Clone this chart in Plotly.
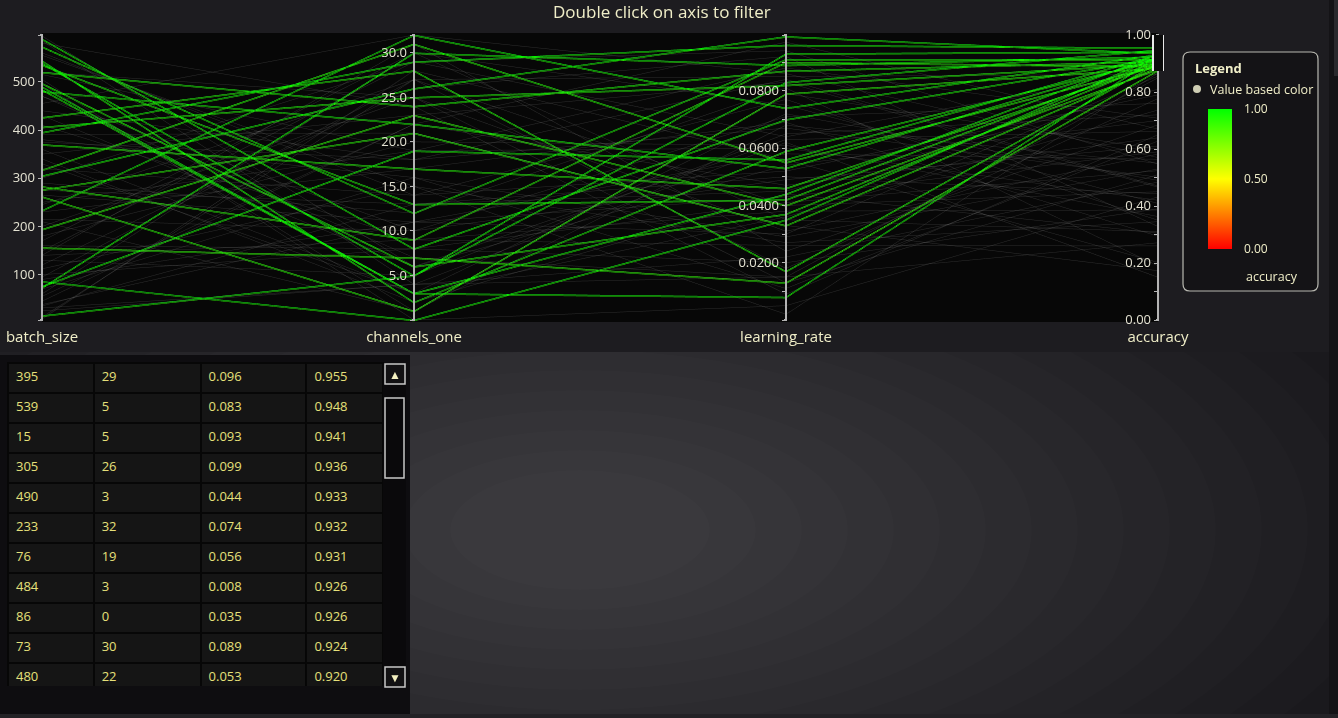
import plotly.graph_objects as go
import pandas as pd

W, H = 1338, 718

# ---------------- data ----------------
batch_size = [395, 539, 15, 305, 490, 233, 76, 484, 86, 73, 480,
              589, 573, 544, 535, 520, 497, 426, 406, 370, 317,
              283, 276, 262, 194, 156, 149, 112, 95, 38, 31,
              560, 12, 470, 330, 250, 140, 595, 45, 380, 210,
              520, 90, 300, 160, 440, 25, 350, 275, 505, 60,
              410, 180, 555, 120, 340, 230, 470, 8, 290, 390,
              130, 580, 215, 455, 70, 360, 245, 515, 100, 320,
              170, 430, 55, 265, 495, 200, 375, 140, 585, 35]
channels_one = [29, 5, 5, 26, 3, 32, 19, 3, 0, 30, 22,
                8, 12, 2, 13, 24, 6, 28, 25, 17, 31,
                9, 21, 1, 23, 7, 29, 15, 27, 11, 4,
                14, 27, 10, 3, 19, 31, 6, 22, 16, 1,
                25, 11, 29, 8, 18, 4, 23, 13, 0, 30,
                9, 20, 15, 26, 2, 17, 7, 28, 12, 21,
                5, 24, 10, 32, 16, 3, 27, 19, 8, 14,
                30, 6, 22, 11, 1, 25, 18, 9, 4, 13]
learning_rate = [0.096, 0.083, 0.093, 0.099, 0.044, 0.074, 0.056, 0.008, 0.035, 0.089, 0.053,
                 0.070, 0.091, 0.059, 0.042, 0.087, 0.037, 0.017, 0.082, 0.046, 0.055,
                 0.090, 0.033, 0.079, 0.040, 0.013, 0.064, 0.002, 0.085, 0.030, 0.015,
                 0.052, 0.018, 0.071, 0.036, 0.088, 0.024, 0.063, 0.047, 0.011, 0.079,
                 0.031, 0.058, 0.094, 0.041, 0.067, 0.022, 0.083, 0.050, 0.005, 0.075,
                 0.038, 0.061, 0.027, 0.092, 0.044, 0.069, 0.015, 0.056, 0.081, 0.033,
                 0.065, 0.009, 0.049, 0.086, 0.029, 0.072, 0.040, 0.060, 0.020, 0.077,
                 0.035, 0.054, 0.097, 0.043, 0.068, 0.013, 0.084, 0.026, 0.062, 0.045]
accuracy = [0.955, 0.948, 0.941, 0.936, 0.933, 0.932, 0.931, 0.926, 0.926, 0.924, 0.920,
            0.918, 0.915, 0.912, 0.910, 0.907, 0.905, 0.902, 0.899, 0.896, 0.893,
            0.890, 0.887, 0.884, 0.880, 0.876, 0.872, 0.867, 0.862, 0.856, 0.850,
            0.790, 0.777, 0.760, 0.737, 0.708, 0.685, 0.662, 0.639, 0.628, 0.599,
            0.582, 0.564, 0.547, 0.524, 0.501, 0.484, 0.466, 0.443, 0.432, 0.409,
            0.386, 0.363, 0.345, 0.328, 0.305, 0.294, 0.271, 0.202, 0.190, 0.173,
            0.720, 0.650, 0.610, 0.570, 0.530, 0.490, 0.450, 0.420, 0.390, 0.350,
            0.310, 0.700, 0.670, 0.590, 0.550, 0.510, 0.470, 0.260, 0.150, 0.810]

batch_range = [6, 597]
batch_ticks = [6, 100, 200, 300, 400, 500, 597]
batch_ticktext = [' ', '100', '200', '300', '400', '500', '  ']
channel_range = [0, 32]
channel_ticks = [0, 5, 10, 15, 20, 25, 30, 32]
channel_ticktext = [' ', '5.0', '10.0', '15.0', '20.0', '25.0', '30.0', '  ']
lr_range = [0, 0.0995]
lr_ticks = [0, 0.01, 0.02, 0.03, 0.04, 0.05, 0.06, 0.07, 0.08, 0.09, 0.0995]
lr_ticktext = [' ', '  ', '0.0200', '   ', '0.0400', '    ', '0.0600', '     ',
               '0.0800', '      ', '       ']
acc_range = [0, 1]
acc_ticks = [0.0, 0.1, 0.2, 0.3, 0.4, 0.5, 0.6, 0.7, 0.8, 0.9, 1.0]
acc_ticktext = ['0.00', ' ', '0.20', '  ', '0.40', '   ', '0.60', '    ', '0.80',
                '     ', '1.00']
acc_filter = [0.845, 1.0]

FONT = 'Open Sans'
CREAM = '#f0eec8'


def px(x):
    return x / W


def py(y):
    return 1 - y / H


df = pd.DataFrame(dict(batch_size=batch_size, channels_one=channels_one,
                       learning_rate=learning_rate, accuracy=accuracy))
tbl = df.sort_values('accuracy', ascending=False, kind='mergesort')

fig = go.Figure()

fig.add_trace(go.Parcoords(
    domain=dict(x=[px(42), px(1158)], y=[py(322), py(33)]),
    line=dict(color=df['accuracy'],
              colorscale=[[0, '#ff0000'], [0.5, '#ffff00'], [1, '#00ff00']],
              cmin=0, cmax=1, showscale=True,
              colorbar=dict(x=px(1208), xanchor='left', xpad=0,
                            y=py(109), yanchor='top', ypad=0,
                            len=140, lenmode='pixels',
                            thickness=24, thicknessmode='pixels',
                            outlinewidth=0,
                            tickvals=[0, 0.5, 1], ticktext=['0.00', '0.50', '1.00'],
                            ticks='outside', ticklen=10, tickcolor='rgba(0,0,0,0)',
                            tickfont=dict(family=FONT, size=12, color=CREAM))),
    dimensions=[
        dict(label='batch_size', values=df['batch_size'], range=batch_range,
             tickvals=batch_ticks, ticktext=batch_ticktext),
        dict(label='channels_one', values=df['channels_one'], range=channel_range,
             tickvals=channel_ticks, ticktext=channel_ticktext),
        dict(label='learning_rate', values=df['learning_rate'], range=lr_range,
             tickvals=lr_ticks, ticktext=lr_ticktext),
        dict(label='accuracy', values=df['accuracy'], range=acc_range,
             tickvals=acc_ticks, ticktext=acc_ticktext,
             constraintrange=acc_filter),
    ],
    labelside='bottom',
    labelfont=dict(family=FONT, size=15, color=CREAM),
    tickfont=dict(family=FONT, size=13, color='#e4e2d2'),
    rangefont=dict(family=FONT, size=1, color='rgba(0,0,0,0)'),
    unselected=dict(line=dict(color='#a8a8a8', opacity=0.24)),
))

fig.add_trace(go.Table(
    domain=dict(x=[px(8), px(383)], y=[py(686), py(347)]),
    columnwidth=[85, 106, 105, 76],
    header=dict(values=[], height=1, fill_color='rgba(0,0,0,0)',
                line=dict(width=0, color='rgba(0,0,0,0)')),
    cells=dict(values=[tbl['batch_size'], tbl['channels_one'],
                       tbl['learning_rate'], tbl['accuracy']],
               format=['', '', '.3f', '.3f'],
               align='left', height=30,
               fill_color='#151515',
               line=dict(color='#070707', width=2),
               font=dict(family=FONT, size=13, color='#e6e07a')),
))


def rect(x0, y0, x1, y1, fill, line=None, lw=0, layer='below'):
    return dict(type='rect', xref='paper', yref='paper', layer=layer,
                x0=px(x0), x1=px(x1), y0=py(y1), y1=py(y0),
                fillcolor=fill, line=dict(color=line or 'rgba(0,0,0,0)', width=lw))


def ellipse(cx, cy, rx, ry, fill):
    return dict(type='circle', xref='paper', yref='paper', layer='below',
                x0=px(cx - rx), x1=px(cx + rx), y0=py(cy + ry), y1=py(cy - ry),
                fillcolor=fill, line=dict(width=0))


def rounded(x0, y0, x1, y1, r):
    pts = [('M', x0 + r, y0), ('L', x1 - r, y0), ('Q', x1, y0, x1, y0 + r),
           ('L', x1, y1 - r), ('Q', x1, y1, x1 - r, y1), ('L', x0 + r, y1),
           ('Q', x0, y1, x0, y1 - r), ('L', x0, y0 + r), ('Q', x0, y0, x0 + r, y0)]
    s = ''
    for p in pts:
        cmd = p[0]
        coords = p[1:]
        parts = []
        for i in range(0, len(coords), 2):
            parts.append('%.5f,%.5f' % (px(coords[i]), py(coords[i + 1])))
        s += cmd + ' '.join(parts) + ' '
    return s + 'Z'


glow = [ellipse(580, 530, 820 - 46 * k, 360 - 20 * k, 'rgba(255,255,255,0.011)')
        for k in range(16)]

shapes = glow + [
    rect(0, 0, 1338, 352, '#1d1c20'),
    rect(42, 33, 1158, 322, '#070707'),
    rect(0, 355, 410, 714, '#0e0d10'),
    rect(1329, 0, 1338, 718, '#141316'),
    rect(1334, 0, 1338, 76, '#2a292d'),
    rect(0, 714, 1338, 718, '#232226'),
    rect(383, 363, 406, 686, '#0a090b', layer='above'),
    rect(385, 364, 405, 384, '#121113', '#c8c8c8', 1.5, 'above'),
    rect(385, 398, 404, 478, '#0a090b', '#c8c8c8', 1.5, 'above'),
    rect(385, 667, 405, 687, '#121113', '#c8c8c8', 1.5, 'above'),
    dict(type='path', xref='paper', yref='paper', layer='below',
         path=rounded(1183, 52, 1318, 291, 7),
         fillcolor='#141316', line=dict(color='#b8b8b0', width=1.2)),
    dict(type='circle', xref='paper', yref='paper', layer='above',
         x0=px(1193), x1=px(1201), y0=py(93), y1=py(85),
         fillcolor='#cfceb4', line=dict(width=0)),
]

annotations = [
    dict(text='Double click on axis to filter', x=px(662), y=py(12), xanchor='center',
         yanchor='middle', showarrow=False, xref='paper', yref='paper',
         font=dict(family=FONT, size=17, color=CREAM)),
    dict(text='<b>Legend</b>', x=px(1193), y=py(68), xanchor='left', yanchor='middle',
         showarrow=False, xref='paper', yref='paper',
         font=dict(family=FONT, size=13, color=CREAM)),
    dict(text='Value based color', x=px(1208), y=py(89), xanchor='left', yanchor='middle',
         showarrow=False, xref='paper', yref='paper',
         font=dict(family=FONT, size=12.5, color=CREAM)),
    dict(text='accuracy', x=px(1244), y=py(277), xanchor='left', yanchor='middle',
         showarrow=False, xref='paper', yref='paper',
         font=dict(family=FONT, size=12.5, color=CREAM)),
    dict(text='▲', x=px(395), y=py(374), xanchor='center', yanchor='middle',
         showarrow=False, xref='paper', yref='paper',
         font=dict(family=FONT, size=12, color='#f4f0c0')),
    dict(text='▼', x=px(395), y=py(677), xanchor='center', yanchor='middle',
         showarrow=False, xref='paper', yref='paper',
         font=dict(family=FONT, size=12, color='#f4f0c0')),
]

fig.update_layout(
    width=W, height=H, margin=dict(l=0, r=0, t=0, b=0, pad=0),
    paper_bgcolor='#1a191d', plot_bgcolor='#1a191d',
    font=dict(family=FONT, color=CREAM),
    shapes=shapes, annotations=annotations,
)

css = (".parcoords .axis .domain{stroke:#b4b4b4 !important;stroke-opacity:1 !important;"
       "stroke-width:2px !important;}"
       ".parcoords .axis .tick line{stroke:#b4b4b4 !important;stroke-opacity:1 !important;}"
       ".parcoords text{text-shadow:none !important;}"
       ".parcoords .axis-title{translate:0 -8px;}"
       ".parcoords .highlight-shadow{stroke:#e8e8e8 !important;stroke-width:12px !important;"
       "stroke-opacity:1 !important;}"
       ".parcoords .highlight{stroke:#0b0b0b !important;stroke-width:9px !important;"
       "stroke-opacity:1 !important;}"
       ".gl-canvas-focus{filter:drop-shadow(0px 1px 0px rgba(60,255,0,0.9)) "
       "brightness(1.45) saturate(1.4);}")
post = ("var s=document.createElement('style');s.innerHTML=%r;"
        "document.head.appendChild(s);" % css)

fig.write_html('out.html', post_script=post)
